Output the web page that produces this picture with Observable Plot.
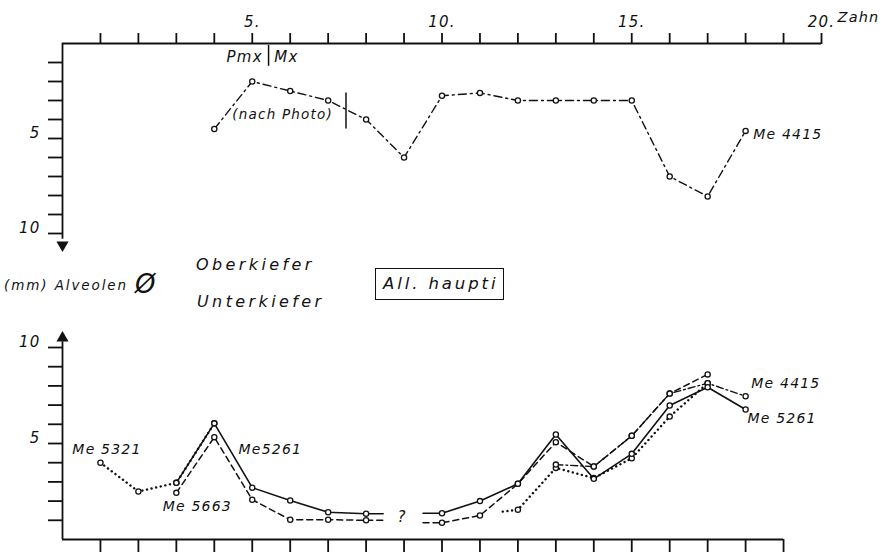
<!DOCTYPE html>
<html>
<head>
<meta charset="utf-8">
<script src="https://cdn.jsdelivr.net/npm/d3@7"></script>
<script src="https://cdn.jsdelivr.net/npm/@observablehq/plot@0.6"></script>
<style>
  body { margin: 0; background: #fff; }
  #wrap { width: 886px; height: 552px; position: relative; overflow: hidden;
          font-family: "DejaVu Sans", sans-serif; font-style: italic; color: #111; }
  .mid { position: relative; height: 70px; }
  .mid span { position: absolute; white-space: nowrap; }
  .t1 { font-size: 13.5px; letter-spacing: 1.9px; line-height: 16px; }
  .t2 { font-size: 16px; letter-spacing: 3.4px; line-height: 18px; }
  .box { border: 1.6px solid #111; font-size: 16.5px; letter-spacing: 2.9px; line-height: 30px; padding: 0 5px 0 7px; }
  .phi { font-size: 26px; line-height: 28px; font-style: italic; }
  svg { overflow: visible; }
</style>
</head>
<body>
<div id="wrap">
  <div id="top"></div>
  <div class="mid">
    <span class="t1" style="left:4px; top:27px;">(mm) Alveolen</span>
    <span class="phi" style="left:135px; top:20px;">Ø</span>
    <span class="t2" style="left:196px; top:6px;">Oberkiefer</span>
    <span class="t2" style="left:197px; top:43px;">Unterkiefer</span>
    <span class="box" style="left:375px; top:18px;">All. haupti</span>
  </div>
  <div id="bot"></div>
</div>
<script>
// ---------- data ----------
// Oberkiefer (upper jaw), Me 4415, alveolar diameter (mm) per tooth position
const upperTeeth4415 = [4, 5, 6, 7, 8, 9, 10, 11, 12, 13, 14, 15, 16, 17, 18];
const upperVals4415  = [4.5, 2.0, 2.5, 3.0, 4.0, 6.0, 2.75, 2.6, 3.0, 3.0, 3.0, 3.0, 7.0, 8.05, 4.6];

// Unterkiefer (lower jaw)
const teeth5261 = [3, 4, 5, 6, 7, 8, 10, 11, 12, 13, 14, 15, 16, 17, 18];
const vals5261  = [2.95, 6.05, 2.7, 2.03, 1.42, 1.34, 1.37, 2.0, 2.9, 5.47, 3.16, 4.46, 6.98, 7.93, 6.77];
const teeth5663 = [3, 4, 5, 6, 7, 8, 10, 11, 12, 13, 14, 15, 16, 17];
const vals5663  = [2.43, 5.33, 2.07, 1.03, 1.03, 1.0, 0.87, 1.25, 2.9, 5.07, 3.8, 5.4, 7.6, 8.6];
const teeth5321 = [1, 2, 3, 4, 12, 13, 14, 15, 16, 17];
const vals5321  = [4.0, 2.5, 2.95, 6.05, 1.55, 3.73, 3.2, 4.23, 6.4, 8.14];
const teeth4415 = [13, 14, 15, 16, 17, 18];
const vals4415  = [3.9, 3.8, 5.4, 7.6, 8.14, 7.46];

// where the lines stop around the unknown tooth 9 ("?")
const gapFrom = 8.45, gapTo = 9.5;
// dotted lead-in of Me 5321 before tooth 12
const lead5321 = { tooth: 11.6, value: 1.45 };

// axis ticks
const xTicksTop = d3.range(1, 21);
const xTicksBottom = d3.range(1, 20);
const yTicks = d3.range(1, 11);
const yLabels = [5, 10];

// annotations (tooth position, value)
const topNotesMid = [
  { text: "Pmx", tooth: 4.8, value: 0.74 },
  { text: "Mx", tooth: 5.9, value: 0.74 }
];
const topNotesPhoto = [
  { text: "(nach Photo)", tooth: 5.8, value: 3.74 }
];
const topNotesStart = [
  { text: "Me 4415", tooth: 18.2, value: 4.8 }
];
const topDividers = [
  { tooth: 5.43, from: 0.1, to: 1.2 },
  { tooth: 7.47, from: 2.6, to: 4.5 }
];
const bottomNotesStart = [
  { text: "Me 5321", tooth: 0.26, value: 4.69 },
  { text: "Me5261", tooth: 4.64, value: 4.69 },
  { text: "Me 5663", tooth: 2.64, value: 1.72 },
  { text: "Me 4415", tooth: 18.15, value: 8.1 },
  { text: "Me 5261", tooth: 18.05, value: 6.3 }
];
const bottomNotesMid = [
  { text: "?", tooth: 8.95, value: 1.15 }
];

// ---------- helpers ----------
const pts = (teeth, vals) => teeth.map((t, i) => ({ tooth: t, value: vals[i] }));
function withGap(teeth, vals) {
  const out = [];
  teeth.forEach((t, i) => {
    out.push({ tooth: t, value: vals[i] });
    if (t === 8) {
      out.push({ tooth: gapFrom, value: vals[i] });
      out.push({ tooth: NaN, value: NaN });
      out.push({ tooth: gapTo, value: vals[i + 1] });
    }
  });
  return out;
}
function dotted5321() {
  const out = [];
  teeth5321.forEach((t, i) => {
    if (t === 12) {
      out.push({ tooth: NaN, value: NaN });
      out.push(lead5321);
    }
    out.push({ tooth: t, value: vals5321[i] });
  });
  return out;
}

const svgStyle = "font-family:'DejaVu Sans',sans-serif;font-style:italic;font-size:13.5px;letter-spacing:1.2px;color:#111;background:transparent;overflow:visible;";
const AX = 1.8;
const circle = { r: 2.6, fill: "white", stroke: "#111", strokeWidth: 1.3 };

// ---------- top panel (Oberkiefer) ----------
const upper = pts(upperTeeth4415, upperVals4415);
const topPlot = Plot.plot({
  width: 886, height: 250,
  marginLeft: 62, marginRight: 65, marginTop: 43, marginBottom: 17,
  x: { domain: [0, 20] },
  y: { domain: [0, 10], reverse: true },
  style: svgStyle,
  marks: [
    Plot.axisX({ anchor: "top", ticks: xTicksTop, tickSize: 11, tickPadding: 6,
      tickFormat: d => d % 5 === 0 ? d + "." : "", strokeWidth: AX, label: null, fontSize: 15 }),
    Plot.axisY({ anchor: "left", ticks: yTicks, tickSize: 14, tickFormat: () => "", strokeWidth: AX, label: null }),
    Plot.axisY({ anchor: "left", ticks: yLabels, tickSize: 0, tickPadding: 22, dy: -5, label: null, fontSize: 15 }),
    Plot.ruleY([0], { x1: 0, x2: 20, strokeWidth: AX }),
    Plot.ruleX([0], { y1: 0, y2: 10.3, strokeWidth: AX }),
    Plot.dot([10.6], { x: 0, y: d => d, symbol: "triangle", rotate: 180, r: 4.5, fill: "#111" }),
    Plot.text(["Zahn"], { x: 20, y: 0, dx: 16, dy: -26, textAnchor: "start", fontSize: 14.5 }),
    Plot.ruleX(topDividers, { x: "tooth", y1: "from", y2: "to", strokeWidth: 1.5 }),
    Plot.line(upper, { x: "tooth", y: "value", stroke: "#111", strokeWidth: 1.4, strokeDasharray: "8,4,2,4" }),
    Plot.dot(upper, { x: "tooth", y: "value", ...circle }),
    Plot.text(topNotesMid, { x: "tooth", y: "value", text: "text", textAnchor: "middle", fontSize: 15, letterSpacing: 2 }),
    Plot.text(topNotesPhoto, { x: "tooth", y: "value", text: "text", textAnchor: "middle", fontSize: 13.5 }),
    Plot.text(topNotesStart, { x: "tooth", y: "value", text: "text", textAnchor: "start", fontSize: 14 })
  ]
});
document.getElementById("top").append(topPlot);

// ---------- bottom panel (Unterkiefer) ----------
const s5261 = withGap(teeth5261, vals5261);
const s5663 = withGap(teeth5663, vals5663);
const s5321 = dotted5321();
const s4415 = pts(teeth4415, vals4415);
const botPlot = Plot.plot({
  width: 886, height: 232,
  marginLeft: 62, marginRight: 65, marginTop: 27, marginBottom: 13,
  x: { domain: [0, 20] },
  y: { domain: [0, 10] },
  style: svgStyle,
  marks: [
    Plot.axisX({ anchor: "bottom", ticks: xTicksBottom, tickSize: 13, tickFormat: () => "", strokeWidth: AX, label: null }),
    Plot.axisY({ anchor: "left", ticks: yTicks, tickSize: 14, tickFormat: () => "", strokeWidth: AX, label: null }),
    Plot.axisY({ anchor: "left", ticks: yLabels, tickSize: 0, tickPadding: 22, dy: -5, label: null, fontSize: 15 }),
    Plot.ruleY([0], { x1: 0, x2: 19, strokeWidth: AX }),
    Plot.ruleX([0], { y1: 0, y2: 10.3, strokeWidth: AX }),
    Plot.dot([10.5], { x: 0, y: d => d, symbol: "triangle", r: 4.5, fill: "#111" }),
    Plot.line(s5321, { x: "tooth", y: "value", stroke: "#111", strokeWidth: 2.4, strokeDasharray: "0.1,4.6", strokeLinecap: "round" }),
    Plot.line(s4415, { x: "tooth", y: "value", stroke: "#111", strokeWidth: 1.4, strokeDasharray: "7,3,1.8,3" }),
    Plot.line(s5663, { x: "tooth", y: "value", stroke: "#111", strokeWidth: 1.5, strokeDasharray: "6,4" }),
    Plot.line(s5261, { x: "tooth", y: "value", stroke: "#111", strokeWidth: 1.6 }),
    Plot.dot(pts(teeth5321, vals5321), { x: "tooth", y: "value", ...circle }),
    Plot.dot(s4415, { x: "tooth", y: "value", ...circle }),
    Plot.dot(pts(teeth5663, vals5663), { x: "tooth", y: "value", ...circle }),
    Plot.dot(pts(teeth5261, vals5261), { x: "tooth", y: "value", ...circle }),
    Plot.text(bottomNotesStart, { x: "tooth", y: "value", text: "text", textAnchor: "start", fontSize: 14 }),
    Plot.text(bottomNotesMid, { x: "tooth", y: "value", text: "text", textAnchor: "middle", fontSize: 15 })
  ]
});
document.getElementById("bot").append(botPlot);
</script>
</body>
</html>
